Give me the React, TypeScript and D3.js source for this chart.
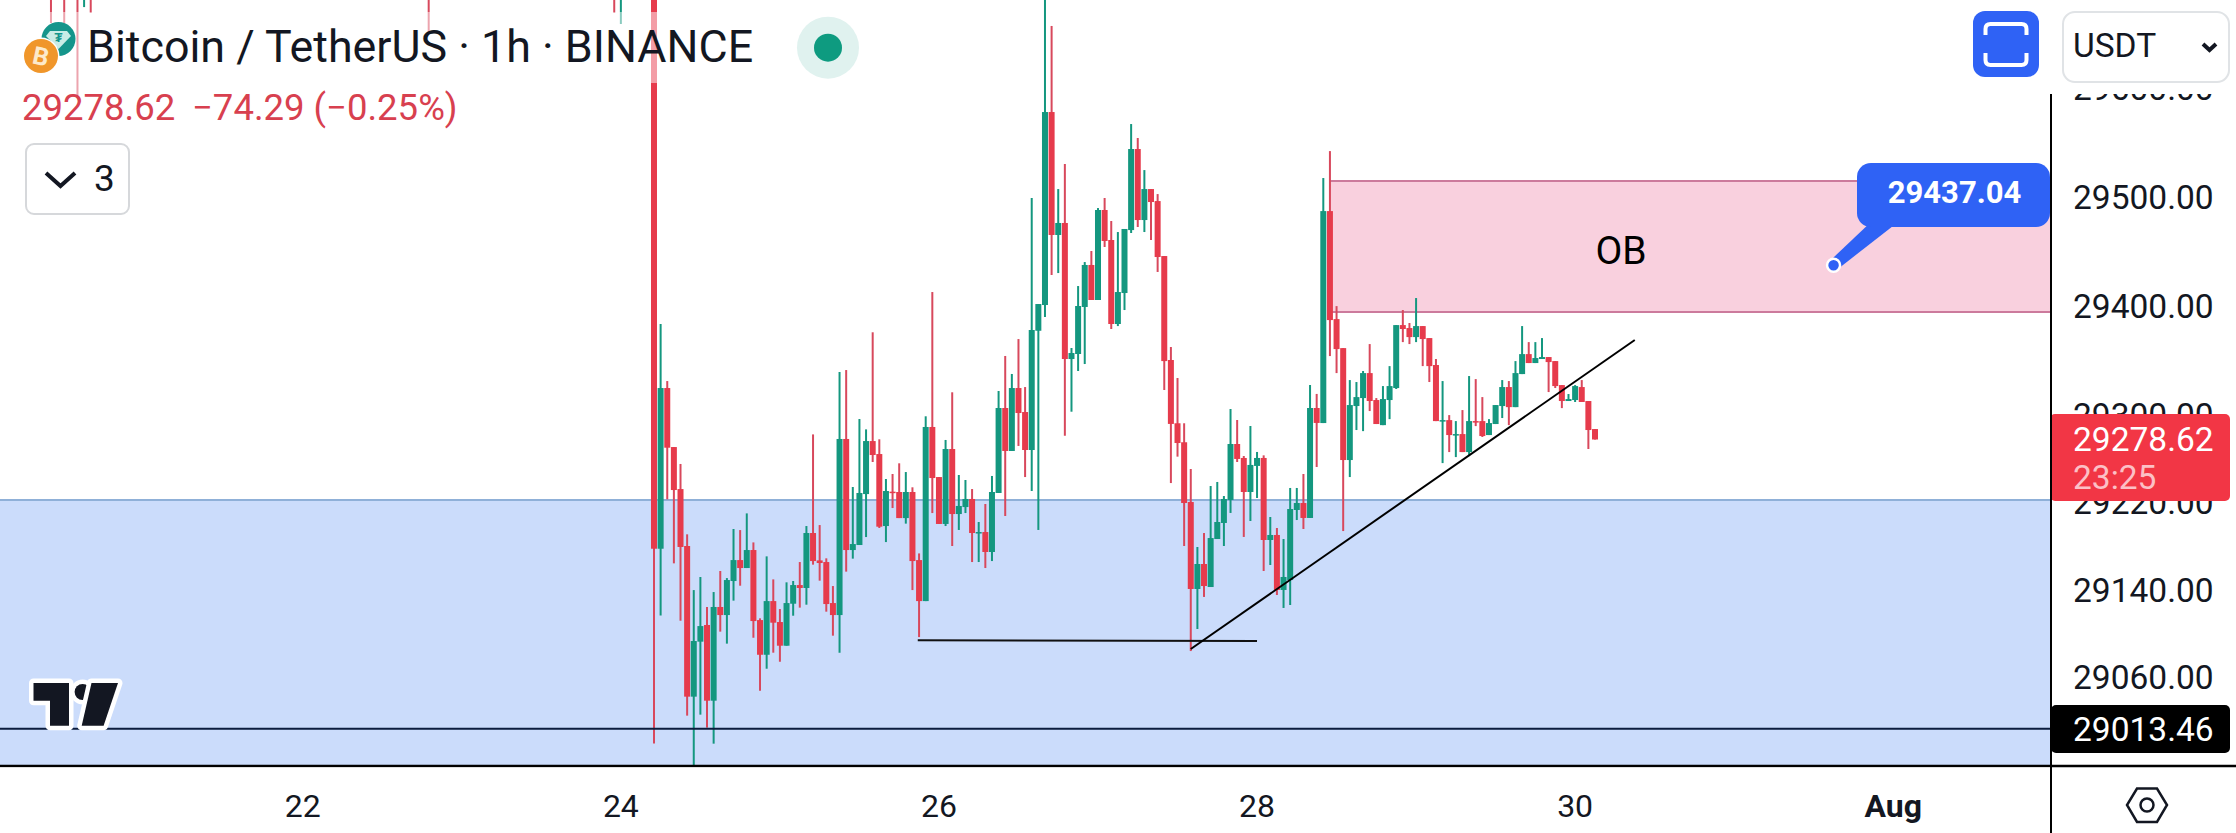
import React from 'react';
import * as d3 from 'd3';

// hourly candles, first one is Jul 24 05:00
const firstHour = 5;
const opens = [
  29730, 29178.5, 29325.8, 29271.7, 29233.2, 29181, 29042.9, 29093.3, 29108.6, 29039.2,
  29125.1, 29117.7, 29148.9, 29168.1, 29160.8, 29177.3, 29113.1, 29081.3, 29130.5, 29111.3,
  29089.6, 29128.1, 29145.2, 29142.5, 29192.9, 29167.8, 29166.3, 29128.7, 29117.7, 29279.1,
  29177.3, 29181.9, 29228.6, 29277.2, 29265.3, 29199.3, 29230.8, 29230.5, 29206.6, 29230.5,
  29168.1, 29130.5, 29290.1, 29244.2, 29201.2, 29269.9, 29210.3, 29216.7, 29224.1, 29193.2,
  29193.8, 29175.5, 29229.6, 29307.5, 29268.1, 29325.8, 29303.8, 29269, 29378.3, 29401.9,
  29578.8, 29466.1, 29477.1, 29352.4, 29357, 29400.1, 29438.6, 29406.5, 29489, 29461.5,
  29384.5, 29412.9, 29470.6, 29544.9, 29479.8, 29508.2, 29497.2, 29446.8, 29351.5, 29293.5,
  29276.1, 29221.3, 29141.6, 29164.5, 29143.4, 29187.4, 29202.1, 29223.2, 29274.5, 29261.7,
  29230.5, 29254.4, 29261.7, 29186.5, 29191.1, 29140.7, 29149.8, 29214, 29220.4, 29206.7,
  29307.5, 29293.7, 29488, 29389, 29362.4, 29259.8, 29309.3, 29316.6, 29339.5, 29314.8,
  29291.8, 29314.8, 29325.8, 29383.5, 29380.8, 29372.5, 29382.6, 29371.6, 29346.9, 29295.5,
  29296.4, 29282.7, 29283.6, 29267.1, 29295.5, 29295.5, 29282.7, 29292.8, 29309.3, 29326.7,
  29308.3, 29338.6, 29356.9, 29348.7, 29352.4, 29354.2, 29350.5, 29328.5, 29313.9, 29314.8,
  29326.7, 29313.9, 29288.2,
];
const highs = [
  29740, 29384.5, 29332.2, 29271.7, 29256.2, 29191.7, 29140.6, 29152.6, 29125.1, 29138.8,
  29158.1, 29151.6, 29196.6, 29195.6, 29210.9, 29184.3, 29114.7, 29171.5, 29150.4, 29123.2,
  29147.7, 29148.9, 29166.3, 29199.3, 29283.3, 29200.2, 29169.7, 29144.3, 29340.5, 29342.3,
  29235.1, 29297.4, 29287.9, 29376.9, 29278.8, 29242.4, 29247, 29256.8, 29248.8, 29234.8,
  29174.2, 29299.9, 29413.8, 29244.2, 29278.2, 29321.9, 29246.1, 29241.5, 29233.2, 29203,
  29219.5, 29245.2, 29323.1, 29355.2, 29338.7, 29370.7, 29326.7, 29500, 29402.8, 29740,
  29657.7, 29508.2, 29531.2, 29362.5, 29419.3, 29441.3, 29451.4, 29490.8, 29500, 29478.9,
  29468.8, 29471.6, 29567.8, 29555, 29525.6, 29508.2, 29503.6, 29446.8, 29363.4, 29335,
  29293.5, 29251.6, 29180.1, 29192.9, 29236, 29239.7, 29226.8, 29306.6, 29296.5, 29263.5,
  29291, 29267.2, 29264.1, 29207.6, 29197.5, 29187.4, 29234.2, 29234.2, 29247, 29328.6,
  29320.4, 29518.3, 29543, 29400.9, 29362.4, 29333.1, 29331.3, 29341.4, 29366.1, 29316.6,
  29327.6, 29345.9, 29383.5, 29397.3, 29385.4, 29408.3, 29382.6, 29371.6, 29352.4, 29332.2,
  29301, 29295.5, 29305.6, 29336.8, 29334, 29317.5, 29297.3, 29310.2, 29333.1, 29332.2,
  29350.5, 29382.6, 29367.9, 29367.9, 29371.6, 29354.2, 29350.5, 29328.5, 29320.3, 29328.5,
  29333.1, 29313.9, 29288.2,
];
const lows = [
  29000, 29117.4, 29223.8, 29165.1, 29112.5, 29025.5, 28980.2, 29026.4, 29014.5, 28999.8,
  29102.5, 29091.5, 29130.9, 29144.6, 29160.8, 29096.9, 29048.3, 29068.5, 29083.2, 29074.9,
  29089.6, 29117.1, 29124.5, 29127.2, 29163.9, 29149.2, 29120.8, 29098.8, 29083.2, 29157.5,
  29169.4, 29181.9, 29189.2, 29258, 29197.5, 29184.6, 29215.8, 29206.6, 29201.5, 29140.6,
  29097.5, 29130.5, 29211.2, 29201.2, 29199.3, 29181, 29195.7, 29211.2, 29166.3, 29166.3,
  29160.8, 29167.2, 29229.6, 29208.5, 29268.1, 29272.7, 29244.2, 29231.4, 29195.7, 29390.9,
  29429.4, 29431.2, 29282.1, 29304.1, 29341.4, 29347.8, 29406.5, 29406.5, 29455.1, 29379.9,
  29382.6, 29397.3, 29467.9, 29473.4, 29468.8, 29461.5, 29432.2, 29324, 29238.7, 29262.9,
  29181, 29084.7, 29104.9, 29134.3, 29143.4, 29187.4, 29181, 29211.3, 29258, 29189.3,
  29203.9, 29225, 29158.1, 29163.6, 29136.1, 29124.2, 29126.9, 29204.8, 29196.6, 29206.7,
  29253.4, 29293.7, 29355.1, 29339.5, 29194.7, 29244.2, 29287.3, 29286.3, 29304.7, 29292.8,
  29291.8, 29297.3, 29324.9, 29367.9, 29366.1, 29367.9, 29345.9, 29331.3, 29295.5, 29257,
  29267.1, 29262.5, 29267.1, 29263.4, 29290.9, 29280.9, 29282.7, 29292.8, 29298.3, 29291.8,
  29308.3, 29338.6, 29348.7, 29348.7, 29352.4, 29322.1, 29325.8, 29307.4, 29313.9, 29313,
  29313, 29269.9, 29278.62,
];
const closes = [
  29178.5, 29325.8, 29271.1, 29232.3, 29180.1, 29042.9, 29093.9, 29107.6, 29039.2, 29125.1,
  29117.7, 29149.8, 29168.1, 29160.8, 29177.3, 29112.2, 29081.3, 29130.5, 29110.7, 29089.6,
  29128.7, 29145.2, 29142.5, 29192.9, 29167.2, 29165.4, 29127.8, 29117.7, 29279.1, 29177.3,
  29182.8, 29229.6, 29277.2, 29264.4, 29198.7, 29231.4, 29229.9, 29206.6, 29230.5, 29167.2,
  29130.5, 29290.1, 29243.3, 29201.2, 29269.9, 29210.3, 29217.7, 29224.1, 29192.9, 29193.8,
  29175.5, 29230.5, 29307.5, 29268.1, 29325.8, 29302.9, 29269, 29379, 29402.8, 29578.8,
  29466.1, 29477.1, 29352.4, 29357.9, 29401, 29438.6, 29406.5, 29489, 29460.6, 29384.5,
  29413.8, 29471.6, 29544.9, 29479.8, 29508.2, 29496.3, 29445.9, 29350.5, 29292.9, 29275.4,
  29220.4, 29141.6, 29164.5, 29144.3, 29188.3, 29203, 29224.1, 29274.5, 29260.8, 29230.5,
  29255.3, 29261.7, 29186.5, 29191.1, 29140.7, 29152.6, 29214.9, 29220.4, 29206.7, 29307.5,
  29293.8, 29488, 29388.1, 29361.5, 29259.8, 29310.2, 29317.5, 29339.5, 29313.9, 29292.8,
  29315.7, 29327.6, 29383.5, 29379.9, 29372.5, 29382.6, 29370.7, 29345.9, 29295.5, 29296.4,
  29282.7, 29283.6, 29267.1, 29295.5, 29294.6, 29281.8, 29293.7, 29310.2, 29326.7, 29308.3,
  29339.5, 29356.9, 29348.7, 29353.3, 29354.2, 29349.6, 29327.6, 29313.9, 29315.7, 29327.6,
  29313, 29287.3, 29278.62,
];

// older candles, only their lower wicks reach into the picture
const earlyHours = [-86, -84, -82, -81, -80, -29, -1, 0];
const earlyLows = [29660.4, 29660.4, 29594.4, 29675, 29669.6, 29652.2, 29669.6, 29659.5];
const earlyUp = [false, false, false, true, false, false, false, true];

const priceTicks = [29600, 29500, 29400, 29300, 29220, 29140, 29060];
const dayTicks = [
  { hour: -48, label: '22' },
  { hour: 0, label: '24' },
  { hour: 48, label: '26' },
  { hour: 96, label: '28' },
  { hour: 144, label: '30' },
  { hour: 192, label: 'Aug' },
];

const lastPrice = 29278.62;
const markedLow = 29013.46;
const calloutPrice = 29437.04;
const calloutHour = 183;
const obZone = { top: 29515.6, bottom: 29395.5, startHour: 107 };
const demandTop = 29223.2;
const flatLine = [{ hour: 44.8, price: 29094.6 }, { hour: 96, price: 29094 }];
const trendLine = [{ hour: 86, price: 29086.6 }, { hour: 153, price: 29369.8 }];

const WIDTH = 2236;
const HEIGHT = 833;
const AXIS_X = 2051;
const AXIS_Y = 766;
const RED = '#e63b4c';
const RED_WICK = '#d8485c';
const GREEN = '#14977f';
const BLUE = '#2f62f5';
const INK = '#131722';
const FONT = 'Roboto, sans-serif';

const x = d3.scaleLinear().domain([firstHour, firstHour + 142]).range([654, 1595]);
const y = d3.scaleLinear().domain([29500, 29060]).range([198, 678]);
const linePath = d3.line<{ hour: number; price: number }>().x(d => x(d.hour)).y(d => y(d.price));

const App: React.FC = () => {
  const bodyW = 6;
  const dotX = x(calloutHour);
  const dotY = y(calloutPrice) - 1.5;
  return (
    <svg
      width={WIDTH}
      height={HEIGHT}
      style={{ position: 'fixed', left: 0, top: 0, background: 'white', fontFamily: FONT }}
    >
      {/* zones */}
      <rect x={0} y={y(demandTop)} width={AXIS_X} height={AXIS_Y - y(demandTop)} fill="#cbdcfb" />
      <line x1={0} x2={AXIS_X} y1={y(demandTop)} y2={y(demandTop)} stroke="#8fb0d8" strokeWidth={2} />
      <rect
        x={x(obZone.startHour)}
        y={y(obZone.top)}
        width={AXIS_X - x(obZone.startHour)}
        height={y(obZone.bottom) - y(obZone.top)}
        fill="#f9d0de"
      />
      <line x1={x(obZone.startHour)} x2={AXIS_X} y1={y(obZone.top)} y2={y(obZone.top)} stroke="#cc7a9c" strokeWidth={2} />
      <line x1={x(obZone.startHour)} x2={AXIS_X} y1={y(obZone.bottom)} y2={y(obZone.bottom)} stroke="#cc7a9c" strokeWidth={2} />

      {/* candles */}
      <g>
        {earlyHours.map((h, i) => (
          <line
            key={h}
            x1={x(h)}
            x2={x(h)}
            y1={0}
            y2={y(earlyLows[i])}
            stroke={earlyUp[i] ? GREEN : RED_WICK}
            strokeWidth={2}
          />
        ))}
        {opens.map((o, i) => {
          const c = closes[i];
          const up = c >= o;
          const cx = x(firstHour + i);
          const top = y(Math.max(o, c));
          const bottom = y(Math.min(o, c));
          return (
            <g key={i}>
              <line
                x1={cx}
                x2={cx}
                y1={Math.max(0, y(highs[i]))}
                y2={Math.min(AXIS_Y, y(lows[i]))}
                stroke={up ? GREEN : RED_WICK}
                strokeWidth={2}
              />
              <rect
                x={cx - bodyW / 2}
                y={Math.max(0, top)}
                width={bodyW}
                height={Math.max(1.5, bottom - Math.max(0, top))}
                fill={up ? GREEN : RED}
              />
            </g>
          );
        })}
      </g>

      {/* drawings */}
      <line x1={0} x2={AXIS_X} y1={y(markedLow)} y2={y(markedLow)} stroke="#0b1c3d" strokeWidth={2} />
      <path d={linePath(flatLine) || ''} fill="none" stroke="#111" strokeWidth={2} />
      <path d={linePath(trendLine) || ''} fill="none" stroke="#000" strokeWidth={2} />
      <text x={1621} y={264} textAnchor="middle" fontSize={39} fill="#000">OB</text>

      {/* callout */}
      <path d={`M1866.7,226 L1893,226 L${dotX + 4},${dotY + 4} L${dotX - 4},${dotY - 4} Z`} fill={BLUE} />
      <rect x={1857} y={163} width={193} height={64} rx={14} fill={BLUE} />
      <circle cx={dotX} cy={dotY} r={6.5} fill={BLUE} stroke="white" strokeWidth={2.5} />
      <text x={1954.5} y={203} textAnchor="middle" fontSize={31} fontWeight={700} fill="white">{calloutPrice.toFixed(2)}</text>

      {/* TradingView mark */}
      <g fill={INK} stroke="white" strokeWidth={9} strokeLinejoin="round" style={{ paintOrder: 'stroke' }}>
        <path d="M33.5,683 L69,683 L69,725.7 L50,725.7 L50,700.7 L33.5,700.7 Z" />
        <circle cx={82.6} cy={692} r={8} />
        <path d="M91.5,683 L118,683 L103.6,725.7 L81.7,725.7 Z" />
      </g>

      {/* header, it veils the candles behind it */}
      <rect x={0} y={12} width={870} height={71} fill="white" fillOpacity={0.5} />
      <rect x={15} y={83} width={450} height={42} fill="white" fillOpacity={0.5} />
      <circle cx={58.5} cy={39} r={17} fill="#15958b" />
      <path d="M50,31 L67,31 L71,36 L58.5,49 L46,36 Z" fill="#c9ece6" />
      <text x={58.5} y={42} textAnchor="middle" fontSize={13} fontWeight={700} fill="#15958b">₮</text>
      <circle cx={41} cy={56} r={18.5} fill="white" />
      <circle cx={41} cy={56} r={17} fill="#f0962a" />
      <text x={41} y={65} textAnchor="middle" fontSize={25} fontWeight={700} fill="#fdeacb" transform="rotate(12 41 56)">B</text>
      <text x={87} y={62} fontSize={44.8} fill={INK}>Bitcoin / TetherUS · 1h · BINANCE</text>
      <circle cx={828} cy={47.7} r={31} fill="#e0f2ef" />
      <circle cx={828} cy={47.7} r={14} fill="#0e9b80" />
      <text x={22} y={120} fontSize={36.5} fill="#d8404f">{lastPrice.toFixed(2)}</text>
      <text x={192} y={120} fontSize={36.5} fill="#d8404f">−74.29 (−0.25%)</text>
      <rect x={26} y={144} width={103} height={70} rx={8} fill="white" stroke="#d6d8db" strokeWidth={2} />
      <path d="M46,173 L60.5,186 L75,173" fill="none" stroke={INK} strokeWidth={4} />
      <text x={94} y={191} fontSize={37} fill={INK}>3</text>

      {/* price scale */}
      <rect x={AXIS_X} y={0} width={WIDTH - AXIS_X} height={HEIGHT} fill="white" />
      <defs>
        <clipPath id="scaleClip">
          <rect x={AXIS_X} y={94} width={WIDTH - AXIS_X} height={HEIGHT - 94} />
        </clipPath>
      </defs>
      <g clipPath="url(#scaleClip)">
        {priceTicks.map(t => (
          <text key={t} x={2073} y={y(t) + 11} fontSize={33.5} fill={INK}>{t.toFixed(2)}</text>
        ))}
      </g>
      <rect x={2050} y={414} width={180} height={87} rx={5} fill="#f23645" />
      <text x={2073} y={451} fontSize={33.5} fill="white">{lastPrice.toFixed(2)}</text>
      <text x={2073} y={489} fontSize={33.5} fill="#fcc0c6">23:25</text>
      <rect x={2051} y={705} width={179} height={48} rx={5} fill="#000" />
      <text x={2073} y={741} fontSize={33.5} fill="white">{markedLow.toFixed(2)}</text>
      <line x1={AXIS_X} x2={AXIS_X} y1={94} y2={HEIGHT} stroke="#000" strokeWidth={2} />
      <line x1={0} x2={WIDTH} y1={AXIS_Y} y2={AXIS_Y} stroke="#000" strokeWidth={2.5} />

      {/* time scale */}
      <rect x={0} y={AXIS_Y + 1.5} width={AXIS_X - 1} height={HEIGHT - AXIS_Y} fill="white" />
      {dayTicks.map(d => (
        <text
          key={d.label}
          x={x(d.hour)}
          y={817}
          textAnchor="middle"
          fontSize={32}
          fontWeight={d.label === 'Aug' ? 700 : 400}
          fill={INK}
        >
          {d.label}
        </text>
      ))}
      <path d="M2137,788.5 L2157,788.5 L2167,805 L2157,822 L2137,822 L2127,805 Z" fill="none" stroke={INK} strokeWidth={2.5} />
      <circle cx={2147} cy={805} r={6.5} fill="none" stroke={INK} strokeWidth={2.5} />

      {/* top right buttons */}
      <rect x={1973} y={11} width={66} height={66} rx={12} fill={BLUE} />
      <path
        d="M1985.5,35 L1985.5,29 Q1985.5,24 1990.5,24 L2021.5,24 Q2026.5,24 2026.5,29 L2026.5,35 M1985.5,53 L1985.5,60 Q1985.5,65 1990.5,65 L2021.5,65 Q2026.5,65 2026.5,60 L2026.5,53"
        fill="none"
        stroke="white"
        strokeWidth={4}
      />
      <rect x={2063} y={12} width={166} height={70} rx={12} fill="white" stroke="#e0e3e6" strokeWidth={2} />
      <text x={2073} y={57} fontSize={33.5} fill={INK}>USDT</text>
      <path d="M2203,44 L2209.5,50 L2216,44" fill="none" stroke={INK} strokeWidth={4} />
    </svg>
  );
};

export default App;
